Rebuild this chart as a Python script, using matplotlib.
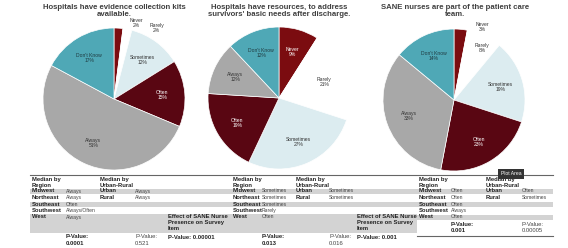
import matplotlib
matplotlib.use("Agg")
import matplotlib.pyplot as plt
import numpy as np

plt.rcParams['font.family'] = ['Liberation Sans', 'DejaVu Sans']

# ---------------- data ----------------
categories = ["Never", "Rarely", "Sometimes", "Often", "Always", "Don't Know"]
pie1_values = [2, 2, 12, 15, 51, 17]
pie2_values = [9, 21, 27, 19, 12, 12]
pie3_values = [3, 8, 19, 23, 33, 14]
titles = ["Hospitals have evidence collection kits\navailable.",
          "Hospitals have resources, to address\nsurvivors' basic needs after discharge.",
          "SANE nurses are part of the patient care\nteam."]

regions = ["Midwest", "Northeast", "Southeast", "Southwest", "West"]
region_medians1 = ["Always", "Always", "Often", "Always/Often", "Always"]
region_medians2 = ["Sometimes", "Sometimes", "Sometimes", "Rarely", "Often"]
region_medians3 = ["Often", "Often", "Often", "Always", "Often"]
urban_rural = ["Urban", "Rural"]
ur_medians1 = ["Always", "Always"]
ur_medians2 = ["Sometimes", "Sometimes"]
ur_medians3 = ["Often", "Sometimes"]
region_pvalues = ["0.0001", "0.013", "0.001"]
ur_pvalues = ["0.521", "0.016", "0.00005"]
effect_pvalues = ["0.00001", "0.001"]

colors = ["#7b0c10", "#ffffff", "#dcecf0", "#590612", "#a8a8a8", "#4fa8b6"]
text_colors = ["white", "#333333", "#333333", "white", "#333333", "#1f3a40"]

W, H = 568, 248
fig = plt.figure(figsize=(W / 100, H / 100), dpi=100)
fig.patch.set_facecolor("white")

R = 71
centers = [(114, 99), (279, 98), (454, 100)]
pies = [pie1_values, pie2_values, pie3_values]
# label overrides for small slices (in pie radius units)
overrides = [{0: (0.32, 1.07), 1: (0.60, 1.0)}, {}, {0: (0.40, 1.03), 1: (0.40, 0.73)}]

for i, (vals, (cx, cy)) in enumerate(zip(pies, centers)):
    ax = fig.add_axes([(cx - R) / W, (H - cy - R) / H, 2 * R / W, 2 * R / H])
    labels = [f"{c}\n{v}%" for c, v in zip(categories, vals)]
    wedges, texts = ax.pie(vals, colors=colors, startangle=90, counterclock=False,
                           labels=labels, labeldistance=0.68,
                           wedgeprops=dict(edgecolor="white", linewidth=0.5),
                           textprops=dict(fontsize=3.6))
    for j, t in enumerate(texts):
        t.set_ha("center")
        t.set_va("center")
        t.set_color(text_colors[j])
        t.set_linespacing(1.0)
        if j in overrides[i]:
            t.set_position(overrides[i][j])
            t.set_color("#333333")
        t.set_clip_on(False)
    ax.set_xlim(-1, 1)
    ax.set_ylim(-1, 1)
    ax.set_aspect("equal")
    ax.axis("off")

# overlay axes in pixel coordinates
tax = fig.add_axes([0, 0, 1, 1], zorder=5)
tax.set_xlim(0, W)
tax.set_ylim(H, 0)
tax.axis("off")
tax.patch.set_alpha(0)

title_x = [114, 279, 455]
for tx, tt in zip(title_x, titles):
    tax.text(tx, 4, tt, ha="center", va="top", fontsize=5.6, fontweight="bold",
             color="#404040", linespacing=1.05)

band_c = "#d3d3d3"
# bands
tax.fill_between([30, 553], 188.5, 194, color=band_c, lw=0)
tax.fill_between([30, 553], 201.5, 207, color=band_c, lw=0)
tax.fill_between([30, 417], 213.5, 233, color=band_c, lw=0)
tax.fill_between([417, 553], 214.5, 220, color=band_c, lw=0)
tax.plot([30, 553], [175, 175], color="#666666", lw=0.8)
tax.plot([417, 553], [236, 236], color="#666666", lw=0.8)

fs = 4.2
vfs = 3.6
bold_c = "#222222"
val_c = "#444444"
row_y = [191, 197.5, 204, 210.5, 217]
table_x = [(32, 66, 100, 135), (233, 262, 296, 329), (419, 451, 486, 522)]
rmeds = [region_medians1, region_medians2, region_medians3]
umeds = [ur_medians1, ur_medians2, ur_medians3]
p_y = [(237, 243.5), (237, 243.5), (225, 231)]
for k, (x0, x1, x2, x3) in enumerate(table_x):
    tax.text(x0, 177.5, "Median by\nRegion", fontsize=fs, fontweight="bold",
             color=bold_c, va="top", linespacing=1.2)
    tax.text(x2, 177.5, "Median by\nUrban-Rural", fontsize=fs, fontweight="bold",
             color=bold_c, va="top", linespacing=1.2)
    for r, y in zip(regions, row_y):
        tax.text(x0, y, r, fontsize=fs, fontweight="bold", color=bold_c, va="center")
    for m, y in zip(rmeds[k], row_y):
        tax.text(x1, y, m, fontsize=vfs, color=val_c, va="center")
    for u, y in zip(urban_rural, row_y):
        tax.text(x2, y, u, fontsize=fs, fontweight="bold", color=bold_c, va="center")
    for m, y in zip(umeds[k], row_y):
        tax.text(x3, y, m, fontsize=vfs, color=val_c, va="center")
    tax.text(x1, p_y[k][0], "P-Value:", fontsize=fs, fontweight="bold", color=bold_c, va="center")
    tax.text(x1, p_y[k][1], region_pvalues[k], fontsize=fs, fontweight="bold", color=bold_c, va="center")
    tax.text(x3, p_y[k][0], "P-Value:", fontsize=fs, color=val_c, va="center")
    tax.text(x3, p_y[k][1], ur_pvalues[k], fontsize=fs, color=val_c, va="center")

effect_x = [168, 357]
for ex, ep in zip(effect_x, effect_pvalues):
    tax.text(ex, 214.5, "Effect of SANE Nurse\nPresence on Survey\nItem", fontsize=fs,
             fontweight="bold", color=bold_c, va="top", linespacing=1.2)
    tax.text(ex, 237.5, f"P-Value: {ep}", fontsize=fs, fontweight="bold",
             color=bold_c, va="center")

tax.text(511, 173.5, "Plot Area", fontsize=3.6, color="white", ha="center", va="center",
         bbox=dict(boxstyle="square,pad=0.5", fc="#333333", ec="none"))

fig.savefig("out.png", dpi=100, facecolor="white")
